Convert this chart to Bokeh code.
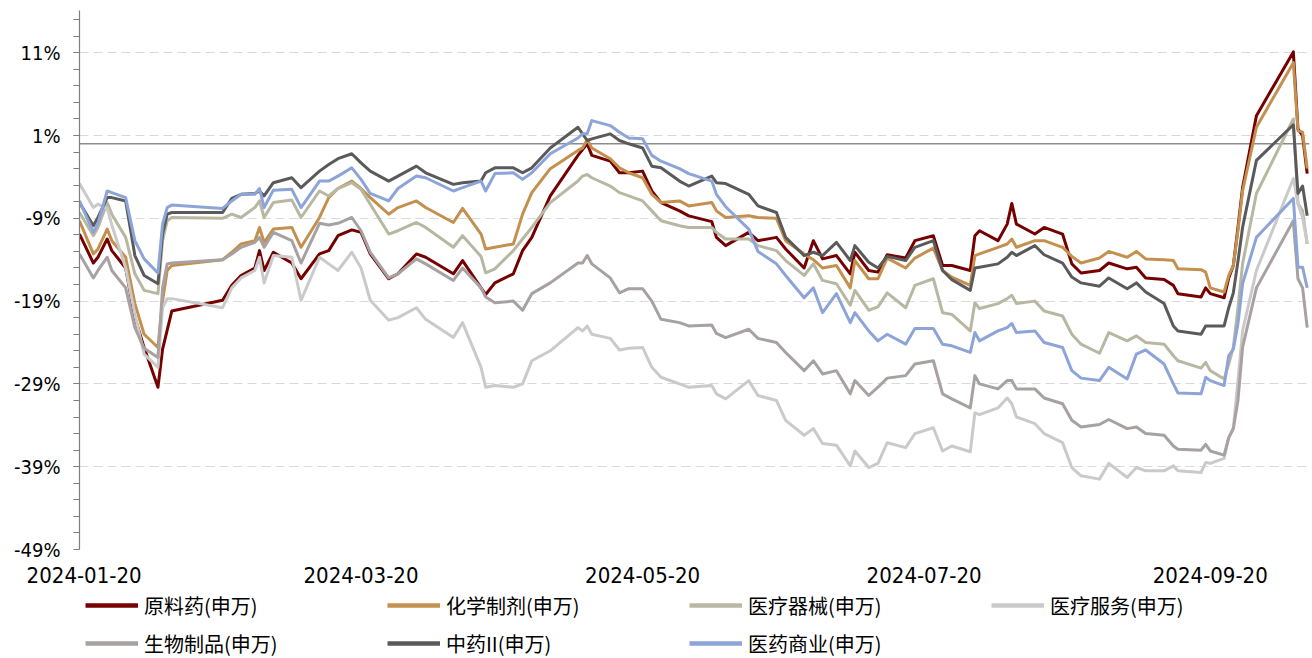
import pandas as pd
from bokeh.plotting import figure
from bokeh.layouts import column
from bokeh.models import (Range1d, FixedTicker, CustomJSTickFormatter, DatetimeTickFormatter,
                          Span, Legend, LegendItem)
from bokeh.embed import file_html
from bokeh.resources import INLINE

# ---------------- data (cumulative change, %) ----------------
dates = [
    "01-19", "01-22", "01-23", "01-25", "01-26", "01-29", "01-31", "02-02", "02-05", "02-06",
    "02-07", "02-08", "02-19", "02-21", "02-23", "02-26", "02-27", "02-28", "03-01", "03-05",
    "03-07", "03-11", "03-13", "03-15", "03-18", "03-20", "03-22", "03-26", "03-28", "04-01",
    "04-03", "04-09", "04-11", "04-15", "04-16", "04-18", "04-22", "04-24", "04-26", "04-30",
    "05-06", "05-07", "05-08", "05-09", "05-13", "05-15", "05-17", "05-20", "05-22", "05-24",
    "05-28", "05-30", "06-04", "06-05", "06-07", "06-12", "06-14", "06-18", "06-20", "06-24",
    "06-26", "06-28", "07-01", "07-04", "07-05", "07-08", "07-10", "07-12", "07-16", "07-18",
    "07-22", "07-24", "07-26", "07-30", "07-31", "08-01", "08-05", "08-07", "08-08", "08-09",
    "08-13", "08-15", "08-19", "08-21", "08-23", "08-27", "08-29", "09-02", "09-04", "09-06",
    "09-10", "09-12", "09-13", "09-18", "09-19", "09-20", "09-23", "09-24", "09-25", "09-26",
    "09-27", "09-30", "10-08", "10-09", "10-10", "10-11",
]

yuanliaoyao = [
    -10.9, -14.4, -13.7, -11.5, -12.9, -15.0, -21.0, -24.6, -29.4, -24.8,
    -22.5, -20.2, -18.9, -17.1, -15.9, -15.0, -12.9, -15.3, -13.1, -14.4,
    -16.3, -13.3, -12.9, -11.1, -10.4, -10.7, -13.3, -16.3, -15.7, -13.3,
    -13.7, -15.7, -14.1, -17.4, -18.2, -16.8, -15.7, -12.9, -11.3, -6.3,
    -1.4, -0.7, 0.0, -1.4, -2.1, -3.5, -3.5, -3.3, -5.7, -7.1,
    -8.1, -8.7, -9.4, -11.3, -12.3, -10.7, -11.7, -11.3, -12.7, -15.0,
    -11.7, -13.9, -13.5, -15.7, -13.1, -15.3, -15.5, -13.4, -13.8, -11.7,
    -11.1, -14.7, -14.7, -15.3, -11.1, -10.5, -11.7, -9.7, -7.2, -9.7,
    -10.9, -10.1, -10.9, -14.5, -15.6, -15.3, -14.4, -15.1, -14.9, -16.2,
    -16.4, -17.1, -18.1, -18.5, -17.4, -18.1, -18.6, -16.2, -14.7, -10.1,
    -5.3, 3.4, 11.1, 1.8, 1.0, -3.6,
]
huaxuezhiji = [
    -9.3, -13.3, -12.7, -10.3, -11.7, -13.7, -19.3, -23.0, -24.6, -19.0,
    -15.3, -14.7, -14.0, -13.1, -12.1, -11.7, -10.1, -11.9, -10.3, -10.1,
    -12.5, -8.9, -6.5, -5.4, -4.5, -5.4, -6.5, -8.5, -7.7, -6.9,
    -7.7, -9.5, -7.8, -10.9, -12.7, -12.5, -12.1, -8.5, -5.9, -3.0,
    -0.8, -0.5, 0.5, -0.5, -1.8, -2.9, -3.5, -4.1, -6.1, -7.1,
    -6.9, -7.5, -7.1, -8.1, -8.9, -8.7, -8.9, -9.0, -11.7, -13.3,
    -14.0, -15.0, -14.7, -17.4, -14.1, -16.3, -16.3, -13.8, -15.0, -13.8,
    -12.6, -15.3, -16.1, -17.1, -13.5, -13.3, -12.5, -12.1, -11.5, -12.5,
    -11.7, -11.7, -12.5, -13.6, -14.4, -13.8, -13.0, -13.7, -13.0, -13.9,
    -14.0, -14.1, -15.1, -15.2, -15.5, -17.4, -17.9, -15.9, -14.7, -10.5,
    -5.7, 2.0, 9.8, 1.6, 1.4, -3.0,
]
yiliaoqixie = [
    -8.3, -11.1, -10.1, -7.1, -8.5, -11.3, -15.7, -17.7, -18.1, -11.7,
    -9.3, -8.9, -9.0, -8.5, -8.9, -7.7, -6.9, -8.9, -7.1, -6.8,
    -8.9, -5.7, -6.3, -5.4, -4.7, -5.5, -7.3, -10.9, -10.5, -9.5,
    -10.1, -12.5, -11.1, -13.6, -15.6, -15.1, -12.9, -11.5, -10.1, -7.1,
    -4.5, -3.9, -3.7, -4.1, -5.1, -5.9, -6.3, -6.9, -8.1, -9.3,
    -9.9, -10.1, -10.1, -10.7, -11.5, -11.5, -12.3, -12.9, -14.1, -15.9,
    -14.5, -16.5, -16.9, -19.5, -17.7, -20.1, -19.7, -18.0, -19.8, -17.1,
    -16.3, -20.4, -20.6, -22.6, -19.2, -19.9, -19.3, -18.7, -18.3, -19.3,
    -19.0, -20.2, -20.8, -23.0, -24.2, -25.3, -22.8, -23.8, -23.2, -24.0,
    -24.2, -25.6, -26.2, -27.1, -26.4, -27.4, -28.4, -26.6, -24.6, -19.8,
    -14.5, -6.0, 3.0, -7.2, -8.1, -12.1,
]
yiliaofuwu = [
    -4.8, -7.7, -7.3, -7.8, -9.8, -15.0, -20.6, -25.4, -27.0, -19.8,
    -18.7, -18.7, -19.8, -17.4, -16.2, -15.3, -13.7, -16.8, -13.5, -13.7,
    -18.9, -13.7, -14.5, -15.3, -13.1, -15.0, -18.9, -21.3, -21.0, -19.8,
    -21.2, -23.4, -21.6, -27.0, -29.4, -29.2, -29.4, -29.0, -26.2, -25.0,
    -22.2, -22.6, -22.0, -23.0, -23.5, -24.9, -24.7, -24.6, -27.0, -28.2,
    -29.0, -29.4, -29.2, -30.2, -30.8, -28.6, -30.4, -31.0, -33.4, -35.2,
    -34.4, -36.2, -36.4, -38.9, -37.1, -39.1, -38.6, -36.1, -36.7, -35.0,
    -34.3, -37.1, -36.5, -37.2, -32.5, -32.7, -31.9, -30.7, -31.4, -33.0,
    -33.8, -35.0, -36.1, -39.1, -40.1, -40.5, -38.6, -40.3, -39.1, -39.5,
    -39.5, -38.9, -39.5, -39.7, -38.5, -38.6, -38.0, -35.5, -34.3, -28.6,
    -22.6, -15.3, -4.2, -7.2, -8.9, -12.0,
]
shengwuzhipin = [
    -13.3, -16.2, -15.3, -13.7, -15.3, -17.4, -22.2, -24.7, -25.8, -17.4,
    -14.5, -14.4, -14.0, -13.3, -12.5, -11.9, -11.3, -12.5, -10.7, -11.7,
    -14.4, -9.6, -9.8, -9.6, -8.9, -10.5, -13.1, -16.2, -15.7, -13.9,
    -14.5, -16.5, -15.0, -17.4, -18.5, -19.2, -19.0, -20.1, -18.1, -16.8,
    -14.4, -14.4, -13.5, -14.5, -16.2, -18.0, -17.5, -17.5, -19.0, -21.2,
    -21.6, -22.0, -21.9, -22.9, -23.4, -22.4, -23.5, -24.0, -25.2, -27.4,
    -26.2, -27.8, -27.4, -30.2, -28.6, -30.4, -29.4, -28.3, -28.0, -26.6,
    -26.2, -30.2, -30.8, -31.9, -28.0, -29.0, -29.6, -28.6, -28.6, -29.6,
    -29.6, -30.7, -31.4, -33.4, -34.2, -33.9, -33.3, -34.4, -34.2, -35.0,
    -35.2, -36.5, -36.9, -37.0, -36.3, -37.1, -37.6, -35.5, -34.4, -31.0,
    -24.6, -17.4, -9.3, -16.3, -17.4, -22.2,
]
zhongyao = [
    -7.1, -9.9, -8.9, -6.5, -6.5, -6.9, -13.5, -15.9, -16.9, -10.9,
    -8.5, -8.3, -8.3, -6.6, -6.1, -6.0, -5.7, -6.3, -4.7, -4.1,
    -5.3, -3.3, -2.5, -1.8, -1.2, -2.3, -3.3, -4.5, -3.9, -2.7,
    -3.5, -4.9, -4.7, -4.5, -3.5, -2.9, -2.9, -3.5, -2.9, -0.5,
    2.0, 1.2, 0.4, 0.6, 1.2, 0.4, 0.0, -0.5, -2.7, -2.9,
    -4.5, -5.1, -3.9, -4.7, -4.8, -6.1, -7.5, -8.3, -11.3, -13.5,
    -13.1, -13.5, -11.9, -14.1, -12.3, -14.3, -15.0, -13.6, -14.1, -12.5,
    -11.7, -15.3, -16.4, -17.7, -15.0, -14.9, -14.5, -13.7, -13.1, -13.5,
    -12.3, -13.4, -14.4, -16.1, -16.8, -17.2, -16.2, -17.5, -16.8, -17.9,
    -19.3, -22.0, -22.6, -23.0, -22.0, -22.0, -22.0, -19.8, -18.0, -14.2,
    -10.1, -2.0, 2.3, -6.0, -5.1, -8.7,
]
yiyaoshangye = [
    -6.9, -10.7, -9.6, -5.7, -5.9, -6.5, -11.7, -13.9, -15.6, -9.7,
    -7.7, -7.4, -7.8, -6.9, -6.1, -6.1, -5.4, -7.7, -5.6, -5.5,
    -7.7, -4.5, -4.5, -3.9, -2.9, -4.3, -6.0, -6.9, -5.4, -3.9,
    -4.1, -5.7, -5.3, -4.5, -5.7, -3.6, -3.5, -4.3, -3.5, -1.2,
    0.7, 1.2, 1.2, 2.8, 2.2, 1.4, 0.7, 0.6, -1.4, -2.1,
    -3.0, -3.6, -4.5, -6.1, -7.6, -10.3, -13.0, -14.5, -15.9, -18.6,
    -17.4, -20.4, -18.1, -21.6, -20.4, -22.6, -23.8, -23.0, -24.2, -22.3,
    -22.3, -24.2, -24.4, -25.2, -22.8, -23.8, -22.6, -22.2, -21.7, -22.8,
    -22.6, -24.0, -24.6, -27.4, -28.3, -28.6, -27.0, -28.4, -25.4, -24.9,
    -26.6, -29.0, -30.1, -30.2, -28.2, -28.6, -29.2, -25.6, -24.8, -21.7,
    -16.9, -11.3, -6.6, -14.9, -14.9, -17.4,
]

series_names = ["原料药(申万)", "化学制剂(申万)", "医疗器械(申万)", "医疗服务(申万)",
                "生物制品(申万)", "中药II(申万)", "医药商业(申万)"]
series_values = [yuanliaoyao, huaxuezhiji, yiliaoqixie, yiliaofuwu,
                 shengwuzhipin, zhongyao, yiyaoshangye]
series_colors = ["#760000", "#C4904F", "#B8B8A2", "#CACACA", "#A8A1A1", "#5A5A5A", "#8DA4D8"]

y_major = [-49, -39, -29, -19, -9, 1, 11]
y_minor = list(range(-47, 17, 2))
x_tick_dates = ["2024-01-20", "2024-03-20", "2024-05-20", "2024-07-20", "2024-09-20"]

# ---------------- main chart ----------------
x = pd.to_datetime(["2024-" + d for d in dates])
NUM_FONT = "DejaVu Sans Condensed"

p = figure(width=1310, height=590, x_axis_type="datetime", output_backend="svg",
           toolbar_location=None,
           x_range=Range1d(pd.Timestamp("2024-01-19"), pd.Timestamp("2024-10-11 12:00")),
           y_range=Range1d(-49, 16.1),
           min_border_left=79, min_border_right=1, min_border_top=10, min_border_bottom=41)
p.outline_line_color = None
p.background_fill_color = "white"
p.border_fill_color = "white"

yax = p.yaxis[0]
yax.ticker = FixedTicker(ticks=y_major, minor_ticks=y_minor)
yax.formatter = CustomJSTickFormatter(code="return tick.toFixed(0) + '%';")
yax.axis_line_color = "#7F7F7F"
yax.axis_line_width = 1.2
yax.major_tick_line_color = "#7F7F7F"
yax.minor_tick_line_color = "#7F7F7F"
yax.major_tick_out = 6
yax.major_tick_in = 0
yax.minor_tick_out = 6
yax.minor_tick_in = 0
yax.major_label_standoff = 13
yax.major_label_text_font = NUM_FONT
yax.major_label_text_font_size = "20px"
yax.major_label_text_color = "#000000"

xax = p.xaxis[0]
xax.ticker = FixedTicker(ticks=[pd.Timestamp(d).value // 10**6 for d in x_tick_dates])
fmt = "%Y-%m-%d"
xax.formatter = DatetimeTickFormatter(days=fmt, months=fmt, years=fmt, hours=fmt, hourmin=fmt)
xax.axis_line_color = None
xax.major_tick_line_color = None
xax.minor_tick_line_color = None
xax.major_tick_out = 0
xax.major_label_standoff = 17
xax.major_label_text_font = NUM_FONT
xax.major_label_text_font_size = "22px"
xax.major_label_text_color = "#000000"

p.xgrid.visible = False
p.ygrid.ticker = FixedTicker(ticks=y_major)
p.ygrid.grid_line_color = "#D9D9D9"
p.ygrid.grid_line_dash = "9 5"
p.ygrid.grid_line_width = 1

p.add_layout(Span(location=0, dimension="width", line_color="#8C8C8C", line_width=1.5,
                  level="underlay"))

for vals, col in zip(series_values, series_colors):
    p.line(x, vals, line_color=col, line_width=3, line_join="round")

# ---------------- legend strip ----------------
lg = figure(width=1310, height=68, output_backend="svg", toolbar_location=None,
            x_range=Range1d(0, 1), y_range=Range1d(0, 1),
            x_axis_location=None, y_axis_location=None,
            min_border_left=0, min_border_right=0, min_border_top=0, min_border_bottom=0)
lg.outline_line_color = None
lg.xgrid.visible = False
lg.ygrid.visible = False
items = []
for name, col in zip(series_names, series_colors):
    # legend swatch only: a single undefined point draws nothing in the strip itself
    r = lg.line(x=[float("nan")], y=[float("nan")], line_color=col, line_width=4.5)
    items.append(LegendItem(label=name, renderers=[r]))
legend = Legend(items=items, ncols=4, orientation="horizontal", location=(6, 0),
                glyph_width=53, glyph_height=30, label_height=30, label_width=235,
                label_standoff=6, spacing=8, padding=0, margin=0,
                border_line_color=None, background_fill_alpha=0,
                label_text_font="Noto Sans CJK SC", label_text_font_size="20px",
                label_text_color="#000000")
lg.add_layout(legend)

open("out.html", "w").write(file_html(column(p, lg), INLINE))
